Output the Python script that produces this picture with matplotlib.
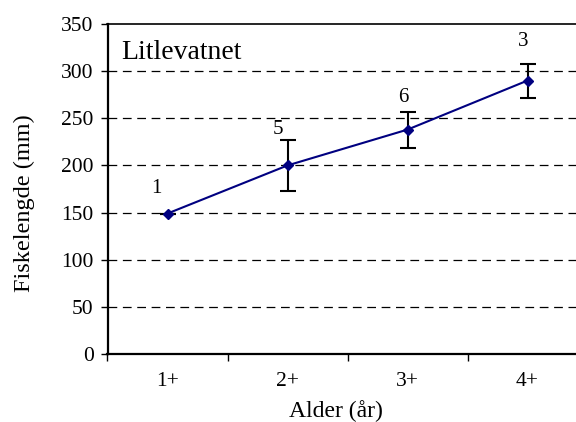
import matplotlib
matplotlib.use("Agg")
import matplotlib.pyplot as plt

plt.rcParams['font.family'] = ['Liberation Serif', 'DejaVu Serif']

# data
ages = ['1+', '2+', '3+', '4+']
mean_len = [149, 200, 238, 290]
sd_len = [0, 27, 19, 18]
n_fish = [1, 5, 6, 3]

# label offsets (points) for the n labels
label_dx = [-8, -7, -3, -3]
label_dy = [18, 26, 23, 28]

fig = plt.figure(figsize=(5.76, 4.22), dpi=100)
# plot area runs past the right edge of the image, as in the original
ax = fig.add_axes([107.5 / 576, 68 / 422, 480 / 576, 330 / 422])

x = list(range(len(ages)))
ax.errorbar(x, mean_len, yerr=sd_len, color='#000080', lw=1.5,
            marker='D', ms=5.5, mfc='#000080', mec='#000080',
            ecolor='black', elinewidth=1.5, capsize=5.5, capthick=1.5, zorder=3)

for i, n in enumerate(n_fish):
    ax.annotate(str(n), (x[i], mean_len[i]), xytext=(label_dx[i], label_dy[i]),
                textcoords='offset points', ha='center', va='center', fontsize=15)

ax.set_xlim(-0.5, 3.5)
ax.set_ylim(0, 350)
ax.set_yticks(range(0, 351, 50))
ax.set_xticks(x)
ax.set_xticklabels(ages)
ax.set_xticks([-0.5, 0.5, 1.5, 2.5], minor=True)
ax.tick_params(axis='x', which='major', length=0, pad=13, labelsize=15.5)
ax.tick_params(axis='x', which='minor', length=5, width=1, direction='out')
ax.tick_params(axis='y', length=5, width=1, direction='out', pad=5, labelsize=15.5)

for v in range(50, 301, 50):
    ax.axhline(v, color='black', lw=0.9, ls=(0, (7, 4.5)), zorder=1)

for side in ['left', 'bottom']:
    ax.spines[side].set_linewidth(1.6)
for side in ['top', 'right']:
    ax.spines[side].set_linewidth(1.2)

ax.text(0.028, 0.915, 'Litlevatnet', transform=ax.transAxes, fontsize=20,
        ha='left', va='center')

ax.set_xlabel('Alder (år)', fontsize=17, va='center')
ax.xaxis.set_label_coords((336 - 107.5) / 480, (354 - 411) / 330)
ax.set_ylabel('Fiskelengde (mm)', fontsize=17.5, va='center')
ax.yaxis.set_label_coords((24 - 107.5) / 480, (354 - 203) / 330)

fig.savefig('out.png', dpi=100)
